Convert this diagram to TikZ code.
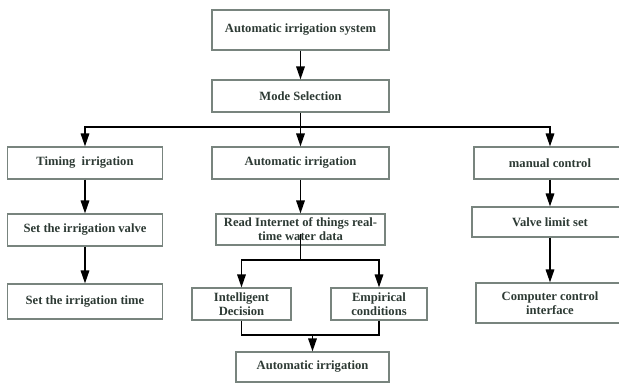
\documentclass[tikz,border=0pt]{standalone}
\usepackage{fontspec}
\setmainfont{Liberation Serif}
\usetikzlibrary{arrows.meta}
\definecolor{boxline}{RGB}{120,132,126}
\definecolor{boxtext}{RGB}{45,58,52}

\begin{document}
\begin{tikzpicture}[x=1pt, y=-1pt,
  stage/.style={draw=boxline, line width=1.1pt, align=center, inner sep=0pt, text=boxtext,
    font=\fontsize{12.6}{14}\selectfont\bfseries},
  flow/.style={line width=1.6pt, -{Triangle[length=13pt, width=8.5pt]}},
  wire/.style={line width=1.6pt}]

\useasboundingbox (0,0) rectangle (619,383);

% top
\node[stage, minimum width=177pt, minimum height=40pt] (sys) at (300.5,30) {Automatic irrigation system};
\node[stage, minimum width=177pt, minimum height=32pt] (mode) at (300.5,96) {Mode Selection};

% three modes
\node[stage, minimum width=155pt, minimum height=32pt] (timing) at (85,163) {Timing\ \ irrigation};
\node[stage, minimum width=177pt, minimum height=32pt] (autoirr) at (300.5,163) {Automatic irrigation};
\node[stage, minimum width=152pt, minimum height=32pt] (manual) at (550,163) {manual control};

% left column
\node[stage, minimum width=155pt, minimum height=32pt] (valve) at (85,230) {Set the irrigation valve};
\node[stage, minimum width=155pt, minimum height=35pt] (time) at (85,301.5) {Set the irrigation time};

% middle column
\node[stage, minimum width=169pt, minimum height=31pt] (read) at (300.5,229.5) {Read Internet of things real-\\time water data};
\node[stage, minimum width=99pt, minimum height=32pt] (intel) at (241.5,304) {Intelligent\\Decision};
\node[stage, minimum width=96pt, minimum height=32pt] (emp) at (379,304) {Empirical\\conditions};
\node[stage, minimum width=153pt, minimum height=30pt] (final) at (312.5,367) {Automatic irrigation};

% right column
\node[stage, minimum width=156pt, minimum height=30pt] (limit) at (550,222) {Valve limit set};
\node[stage, minimum width=148pt, minimum height=40pt] (comp) at (550,303) {Computer control\\interface};

% junctions
\coordinate (split) at (300.5,127);
\coordinate (fork) at (300.5,260);
\coordinate (join) at (312.5,335);

% arrows
\draw[flow] (sys) -- (mode);
\draw[wire] (mode) -- (split);
\draw[flow] (split) -| (timing);
\draw[flow] (split) -- (autoirr);
\draw[flow] (split) -| (manual);

\draw[flow] (timing) -- (valve);
\draw[flow] (valve) -- (time);

\draw[flow] (autoirr) -- (read);
\draw[wire] ([yshift=12pt]read.south) -- (fork);
\draw[flow] (fork) -| (intel);
\draw[flow] (fork) -| (emp);
\draw[wire] (intel) |- (join);
\draw[wire] (emp) |- (join);
\draw[flow] (join) -- (final);

\draw[flow] (manual) -- (limit);
\draw[flow] (limit) -- (comp);

\end{tikzpicture}
\end{document}
